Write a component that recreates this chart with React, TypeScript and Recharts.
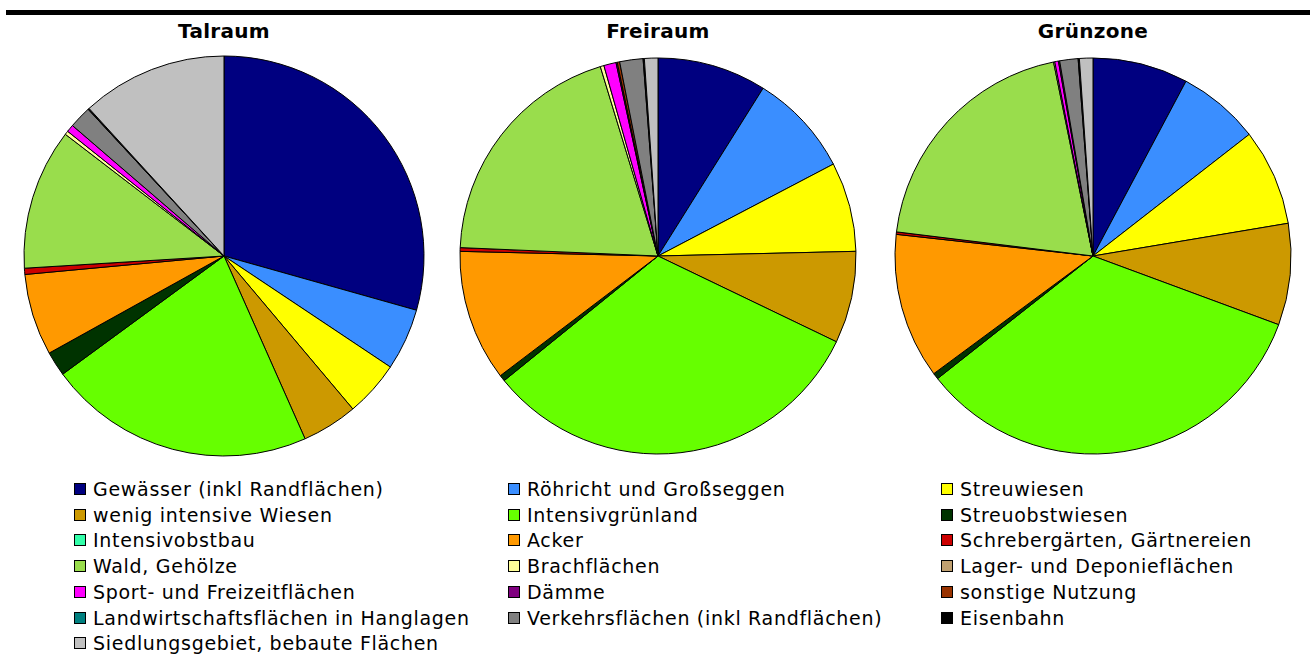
import { PieChart, Pie, Cell } from 'recharts';

const categories = [
  'Gewässer (inkl Randflächen)',
  'Röhricht und Großseggen',
  'Streuwiesen',
  'wenig intensive Wiesen',
  'Intensivgrünland',
  'Streuobstwiesen',
  'Intensivobstbau',
  'Acker',
  'Schrebergärten, Gärtnereien',
  'Wald, Gehölze',
  'Brachflächen',
  'Lager- und Deponieflächen',
  'Sport- und Freizeitflächen',
  'Dämme',
  'sonstige Nutzung',
  'Landwirtschaftsflächen in Hanglagen',
  'Verkehrsflächen (inkl Randflächen)',
  'Eisenbahn',
  'Siedlungsgebiet, bebaute Flächen',
];

const COLORS = [
  '#000080', '#3a8eff', '#ffff00', '#cc9900', '#66ff00', '#003300', '#33ffaa',
  '#ff9900', '#cc0000', '#99dd4c', '#ffff99', '#c0a070', '#ff00ff', '#800080',
  '#993300', '#008080', '#808080', '#000000', '#c0c0c0',
];

// shares in percent
const talraum = [29.4, 5.0, 4.5, 4.5, 21.6, 2.0, 0, 6.6, 0.5, 11.4, 0.3, 0, 0.6, 0, 0, 0, 1.8, 0.1, 11.8];
const freiraum = [8.9, 8.4, 7.3, 7.5, 32.0, 0.5, 0, 10.7, 0.3, 19.6, 0.3, 0, 1.0, 0.1, 0.2, 0, 1.9, 0.1, 1.1];
const gruenzone = [7.8, 6.7, 7.9, 8.3, 33.8, 0.5, 0, 11.9, 0.2, 19.9, 0.1, 0, 0.3, 0.1, 0, 0, 1.5, 0.1, 1.1];

const titles = ['Talraum', 'Freiraum', 'Grünzone'];

const toData = (values: number[]) => values.map((v, i) => ({ name: categories[i], value: v }));

const pies = [
  { data: toData(talraum), cx: 224, r: 200 },
  { data: toData(freiraum), cx: 658, r: 198 },
  { data: toData(gruenzone), cx: 1093, r: 198 },
];

const LEGEND_COLS = [74, 508, 941];
const FONT = '"DejaVu Sans", sans-serif';

export default function App() {
  return (
    <div style={{ position: 'absolute', left: 0, top: 0, width: 1310, height: 662, background: '#fff', fontFamily: FONT }}>
      <div style={{ position: 'absolute', left: 6, top: 10, width: 1304, height: 5, background: '#000' }} />
      {titles.map((t, i) => (
        <div
          key={t}
          style={{
            position: 'absolute', left: pies[i].cx - 100, width: 200, top: 19, textAlign: 'center',
            fontSize: 20, fontWeight: 'bold', color: '#000', letterSpacing: 0.3,
          }}
        >
          {t}
        </div>
      ))}
      <div style={{ position: 'absolute', left: 0, top: 0 }}>
        <PieChart width={1310} height={470} margin={{ top: 0, right: 0, bottom: 0, left: 0 }}>
          {pies.map((p, k) => (
            <Pie
              key={k}
              data={p.data}
              dataKey="value"
              nameKey="name"
              cx={p.cx}
              cy={256}
              outerRadius={p.r}
              innerRadius={0}
              startAngle={90}
              endAngle={-270}
              stroke="#000"
              strokeWidth={1}
              isAnimationActive={false}
            >
              {p.data.map((_, i) => (
                <Cell key={i} fill={COLORS[i]} />
              ))}
            </Pie>
          ))}
        </PieChart>
      </div>
      {categories.map((c, i) => {
        const col = i % 3;
        const row = Math.floor(i / 3);
        return (
          <div
            key={c}
            style={{
              position: 'absolute', left: LEGEND_COLS[col], top: 477 + row * 25.7, height: 24,
              display: 'flex', alignItems: 'center', fontSize: 19, letterSpacing: 0.7, color: '#000', whiteSpace: 'nowrap',
            }}
          >
            <span style={{ width: 10, height: 10, border: '1px solid #000', background: COLORS[i], marginRight: 7, flexShrink: 0 }} />
            {c}
          </div>
        );
      })}
    </div>
  );
}
